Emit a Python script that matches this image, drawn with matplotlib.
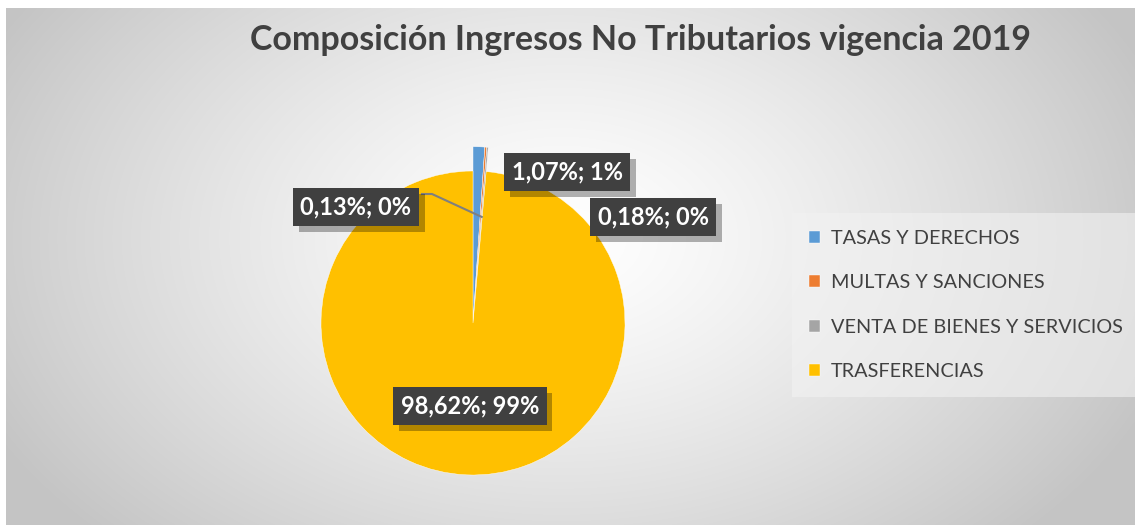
import numpy as np
import matplotlib
matplotlib.use("Agg")
import matplotlib.pyplot as plt
import matplotlib.patheffects as pe

categories = ["TASAS Y DERECHOS", "MULTAS Y SANCIONES", "VENTA DE BIENES Y SERVICIOS", "TRASFERENCIAS"]
values = [1.07, 0.18, 0.13, 98.62]
label_texts = ["1,07%; 1%", "0,18%; 0%", "0,13%; 0%", "98,62%; 99%"]
colors = ["#5B9BD5", "#ED7D31", "#A5A5A5", "#FFC000"]
title = "Composición Ingresos No Tributarios vigencia 2019"

W, H = 1135, 525
fig = plt.figure(figsize=(W / 100, H / 100), dpi=100)
fig.patch.set_facecolor("white")

# background gradient panel
bg = fig.add_axes([6 / W, 0, 1 - 6 / W, 1 - 8 / H])
bg.set_axis_off()
yy, xx = np.mgrid[0:517, 0:1129]
cx, cy = 555, 230
r = np.sqrt(((xx - cx) / 640.0) ** 2 + ((yy - cy) / 430.0) ** 2)
v = 1.0 - 0.23 * np.clip(r, 0, 1) ** 1.3
img = np.dstack([v, v, v])
bg.imshow(img, aspect="auto", extent=[0, 1, 0, 1], interpolation="bilinear")
bg.set_xlim(0, 1)
bg.set_ylim(0, 1)

ax = fig.add_axes([0, 0, 1, 1])
ax.patch.set_alpha(0)

cxp, cyp, R = 473, H - 323, 152
radius_scale = [1.16, 1.16, 1.16, 1.0]
wedges, _ = ax.pie(values, colors=colors, startangle=90, counterclock=False,
                   center=(cxp, cyp), radius=R,
                   wedgeprops=dict(edgecolor="white", linewidth=0.3), frame=True)
for w, s in zip(wedges, radius_scale):
    w.set_radius(R * s)
ax.set_xlim(0, W)
ax.set_ylim(0, H)
ax.set_axis_off()

fnt = ["Lato", "DejaVu Sans"]
shadow = [pe.SimplePatchShadow(offset=(4, -4), shadow_rgbFace="black", alpha=0.3), pe.Normal()]

def label(x, y, s):
    ax.text(x, y, s, fontsize=17, fontweight="bold", family=fnt, color="white",
            ha="center", va="center", zorder=6,
            bbox=dict(boxstyle="square,pad=0.32", fc="#404040", ec="none",
                      path_effects=shadow))

label(567, H - 172, label_texts[0])
label(653, H - 217, label_texts[1])
label(356, H - 207, label_texts[2])
label(470, H - 406, label_texts[3])

# leader line for small gray slice
w = wedges[2]
mid = np.deg2rad((w.theta1 + w.theta2) / 2)
ex, ey = w.center
px, py = ex + 0.7 * R * np.cos(mid), ey + 0.7 * R * np.sin(mid)
ax.plot([422, 432, px], [H - 194, H - 194, py], color="#7f7f7f", lw=1.5, zorder=4)

fig.text(641 / W, 1 - 40 / H, title, ha="center", va="center", fontsize=24.5,
         fontweight="bold", family=fnt, color="#404040")

# legend
leg = fig.legend(wedges, categories, loc="upper left",
                 bbox_to_anchor=(792 / W, 1 - 213 / H), frameon=True,
                 prop=dict(family=fnt, size=14.3), labelcolor="#404040",
                 handlelength=0.55, handleheight=0.55, handletextpad=0.55,
                 labelspacing=1.38, borderpad=0.85, borderaxespad=0)
leg.get_frame().set_facecolor("#f2f2f2")
leg.get_frame().set_alpha(0.6)
leg.get_frame().set_edgecolor("none")
leg.get_frame().set_boxstyle("square", pad=0)

fig.savefig("out.png", dpi=100)
